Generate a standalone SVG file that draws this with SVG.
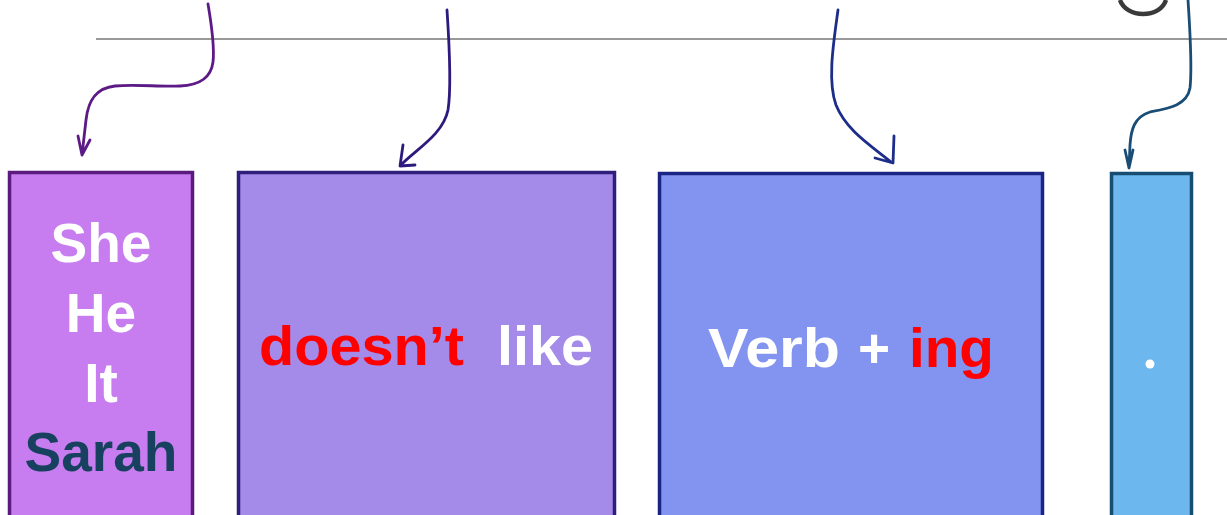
<svg xmlns="http://www.w3.org/2000/svg" width="1227" height="515" viewBox="0 0 1227 515">
<style>
.box{stroke-width:3.5}
.t{font-family:"Liberation Sans",Arial,sans-serif;font-weight:bold;font-size:55px}
.c{fill:none;stroke-width:2.8;stroke-linecap:round;stroke-linejoin:round}
.w{fill:#ffffff}
.r{fill:#ff0000}
</style>
<rect width="1227" height="515" fill="#ffffff"/>
<line x1="96" y1="39" x2="1227" y2="39" stroke="#777777" stroke-width="1.5"/>
<path d="M1120,0 C1123,9 1133,14 1143,14 C1154,14 1163,9 1166,0" fill="none" stroke="#3a3a3a" stroke-width="4.5"/>
<g id="connectors">
<path class="c" stroke="#5c1a87" d="M208,4 C211,22 215,45 213,62 C211,78 200,85 180,86 C160,87 135,84 115,86 C95,88 88,102 86,120 L82,155 M78,136 L82,155 L90,140"/>
<path class="c" stroke="#2e1a7e" d="M447,10 C449,40 452,85 448,110 C443,135 415,150 401,165 M403,145 L400,166 L415,165"/>
<path class="c" stroke="#1c2d8a" d="M838,10 C834,40 827,80 836,105 C846,130 870,145 891,162 M894,136 L893,163 L875,158"/>
<path class="c" stroke="#1a4d75" d="M1188,0 C1190,30 1192,70 1190,88 C1187,105 1170,108 1150,112 C1134,117 1131,130 1130,145 L1129,168 M1125,150 L1129,168 L1133,150"/>
</g>
<g id="node-subject">
<rect class="box" x="9.5" y="172.5" width="183" height="360" fill="#c77def" stroke="#5b1a7e"/>
<text class="t w" x="101" y="262" text-anchor="middle" font-size="56">She</text>
<text class="t w" x="101" y="332" text-anchor="middle" font-size="56">He</text>
<text class="t w" x="101" y="402" text-anchor="middle" font-size="56">It</text>
<text class="t" x="101" y="471" text-anchor="middle" font-size="56" fill="#17415f">Sarah</text>
</g>
<g id="node-verb">
<rect class="box" x="238.5" y="172.5" width="376" height="360" fill="#a48be9" stroke="#2f1f7a"/>
<text class="t" y="365"><tspan class="r" x="259" textLength="205" lengthAdjust="spacingAndGlyphs">doesn’t</tspan><tspan class="w" x="497" textLength="96" lengthAdjust="spacingAndGlyphs">like</tspan></text>
</g>
<g id="node-ing">
<rect class="box" x="659.5" y="173.5" width="383" height="360" fill="#8294f0" stroke="#1a2484"/>
<text class="t" y="367" font-size="54"><tspan class="w" x="708" textLength="132" lengthAdjust="spacingAndGlyphs">Verb</tspan><tspan class="w" x="858">+</tspan><tspan class="r" x="909" textLength="85" lengthAdjust="spacingAndGlyphs">ing</tspan></text>
</g>
<g id="node-dot">
<rect class="box" x="1111.5" y="173.5" width="80" height="360" fill="#6bb7ee" stroke="#174c73"/>
<circle cx="1150" cy="364" r="4.5" fill="#ffffff"/>
</g>
</svg>
